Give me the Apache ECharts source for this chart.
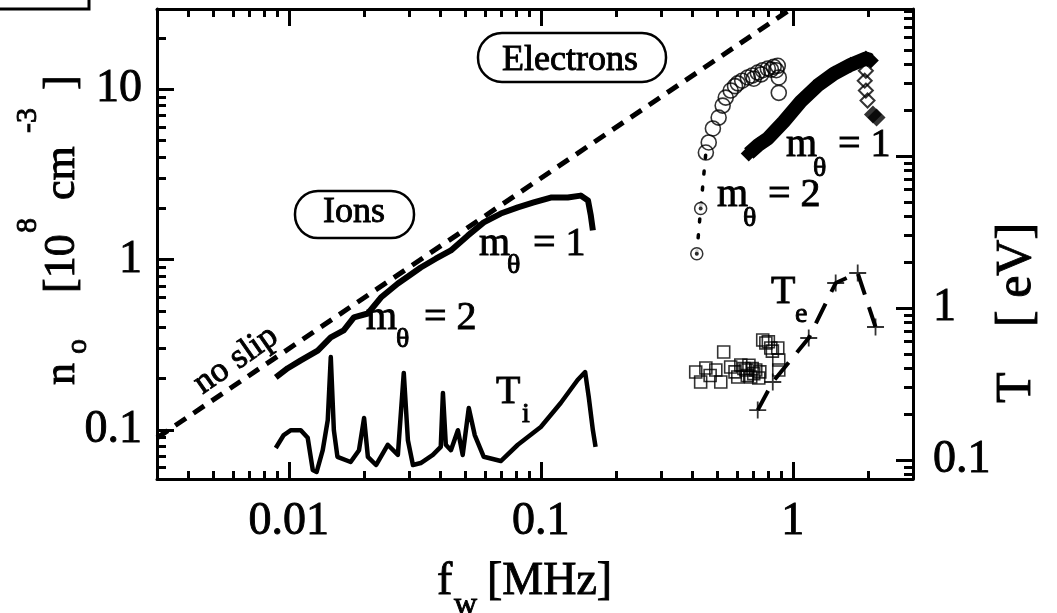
<!DOCTYPE html>
<html>
<head>
<meta charset="utf-8">
<script src="https://cdn.jsdelivr.net/npm/echarts@6/dist/echarts.min.js"></script>
<style>
  html, body { margin: 0; padding: 0; background: #fff; }
  #chart { width: 1057px; height: 613px; }
</style>
</head>
<body>
<div id="chart"></div>
<script>
// ---- axis ranges and ticks ----
const F_RANGE = [0.003, 3];          // f_w [MHz]
const N_RANGE = [0.0515, 29.5];      // n_0 [10^8 cm^-3]
const T_RANGE = [0.075, 92.7];       // T [eV]

const F_MAJOR = [0.01, 0.1, 1];
const F_MINOR = [0.004, 0.005, 0.006, 0.007, 0.008, 0.009,
                 0.02, 0.03, 0.04, 0.05, 0.06, 0.07, 0.08, 0.09,
                 0.2, 0.3, 0.4, 0.5, 0.6, 0.7, 0.8, 0.9, 2];
const F_LABELS = ['0.01', '0.1', '1'];

const N_MAJOR = [0.1, 1, 10];
const N_MINOR = [0.06, 0.07, 0.08, 0.09,
                 0.2, 0.3, 0.4, 0.5, 0.6, 0.7, 0.8, 0.9,
                 2, 3, 4, 5, 6, 7, 8, 9, 20];
const N_LABELS = ['0.1', '1', '10'];

const T_MAJOR = [0.1, 1, 10];
const T_MINOR = [0.08, 0.09,
                 0.2, 0.3, 0.4, 0.5, 0.6, 0.7, 0.8, 0.9,
                 2, 3, 4, 5, 6, 7, 8, 9,
                 20, 30, 40, 50, 60, 70, 80, 90];
const T_LABEL_VALUES = [0.1, 1];
const T_LABELS = ['0.1', '1'];

// ---- data: [f_w, value] ----
const noSlip = [[0.003, 0.0898], [0.98, 29.4]];

const ionDensity = [
  [0.00888, 0.203], [0.00991, 0.230], [0.01116, 0.256], [0.01303, 0.292],
  [0.01468, 0.349], [0.01652, 0.384], [0.01813, 0.457], [0.0206, 0.482],
  [0.0232, 0.598], [0.0271, 0.723], [0.0305, 0.817], [0.0334, 0.897],
  [0.0383, 1.01], [0.0440, 1.13], [0.0513, 1.38], [0.0594, 1.65],
  [0.0694, 1.86], [0.0811, 2.02], [0.0938, 2.16], [0.1096, 2.31],
  [0.128, 2.31], [0.144, 2.37], [0.154, 2.22], [0.158, 1.81], [0.161, 1.48]
];

const ionTemp = [
  [0.00888, 0.120], [0.00955, 0.146], [0.0102, 0.157], [0.01116, 0.157],
  [0.01189, 0.140], [0.01245, 0.086], [0.0129, 0.0834], [0.01364, 0.116],
  [0.01428, 0.183], [0.01468, 0.476], [0.0151, 0.157], [0.0156, 0.105],
  [0.0176, 0.097], [0.0190, 0.116], [0.0199, 0.189], [0.0206, 0.105],
  [0.0222, 0.0927], [0.0247, 0.126], [0.0271, 0.108], [0.0286, 0.374],
  [0.0297, 0.135], [0.0311, 0.0927], [0.0334, 0.0955], [0.0373, 0.108],
  [0.0401, 0.122], [0.0409, 0.276], [0.0420, 0.126], [0.0440, 0.116],
  [0.0469, 0.157], [0.0490, 0.108], [0.0518, 0.220], [0.0547, 0.146],
  [0.0594, 0.105], [0.0694, 0.0985], [0.0811, 0.126], [0.100, 0.165],
  [0.120, 0.237], [0.140, 0.336], [0.150, 0.379], [0.155, 0.260],
  [0.161, 0.157], [0.165, 0.122]
];

// electrons, m_theta = 2
const elecM2Dotted = [[0.416, 1.08], [0.431, 1.99]];
const elecM2Link = [[0.416, 1.08], [0.431, 1.99], [0.452, 4.24]];
const elecM2 = [
  [0.452, 4.24], [0.464, 4.86], [0.482, 5.87], [0.508, 6.80], [0.527, 8.00],
  [0.542, 8.91], [0.567, 9.80], [0.59, 10.4], [0.605, 10.8], [0.63, 11.2],
  [0.663, 11.7], [0.69, 12.0], [0.70, 11.5], [0.726, 12.5], [0.75, 12.2],
  [0.76, 12.9], [0.796, 13.2], [0.82, 13.0], [0.84, 13.5], [0.86, 12.9],
  [0.872, 13.7], [0.880, 11.7], [0.880, 9.5]
];

// electrons, m_theta = 1
const elecM1 = [
  [0.669, 4.19], [0.73, 4.7], [0.796, 5.13], [0.921, 6.44], [1.076, 8.45],
  [1.256, 10.5], [1.455, 12.3], [1.70, 13.9], [1.95, 15.1], [2.04, 14.7]
];
const elecM1Open = [[1.95, 12.8], [1.93, 11.2], [1.95, 9.8], [1.98, 8.57]];
const elecM1Solid = [[2.08, 7.09], [2.15, 6.8]];

// electron temperature
const elecTempCross = [
  [0.726, 0.213], [0.833, 0.326], [1.157, 0.635], [1.48, 1.46], [1.81, 1.70], [2.13, 0.75]
];
const elecTempSquare = [
  [0.412, 0.379], [0.431, 0.326], [0.452, 0.403], [0.47, 0.36], [0.495, 0.391],
  [0.518, 0.326], [0.532, 0.514], [0.567, 0.409], [0.59, 0.38], [0.605, 0.352],
  [0.622, 0.422], [0.64, 0.40], [0.651, 0.391], [0.66, 0.36], [0.67, 0.42],
  [0.681, 0.352], [0.69, 0.40], [0.70, 0.37], [0.713, 0.391], [0.733, 0.346],
  [0.74, 0.38], [0.760, 0.616], [0.782, 0.588], [0.80, 0.60], [0.818, 0.546],
  [0.83, 0.52], [0.872, 0.546], [0.880, 0.455], [0.880, 0.391]
];

// ---- styling ----
const SERIF = '"Liberation Serif", "Times New Roman", Times, serif';
const INK = '#000';
const TICK_FONT = 46;
const HEAVY = 0.9;   // extra stroke that gives the serif text its heavy print look

function labelFrom(values, texts) {
  return function (v) {
    for (let i = 0; i < values.length; i++) {
      if (Math.abs(Math.log10(v) - Math.log10(values[i])) < 1e-6) return texts[i];
    }
    return '';
  };
}

function logAxis(range, position, ticks, tickLen, labels) {
  const ax = {
    type: 'log', logBase: 10, min: range[0], max: range[1], position: position,
    axisLine: { show: tickLen > 10, onZero: false, lineStyle: { color: INK, width: 3 } },
    axisTick: { show: true, inside: true, length: tickLen, customValues: ticks,
                lineStyle: { color: INK, width: 3 } },
    axisLabel: { show: false },
    splitLine: { show: false },
    minorTick: { show: false },
    axisPointer: { show: false }
  };
  if (labels) {
    ax.axisLabel = {
      show: true, customValues: labels.values, formatter: labelFrom(labels.values, labels.texts),
      color: INK, fontFamily: SERIF, fontSize: TICK_FONT, margin: labels.margin,
      textBorderColor: INK, textBorderWidth: HEAVY
    };
  }
  return ax;
}

function txt(s, x, baseline, size) {
  return { type: 'text', x: x, y: baseline - 0.305 * size, silent: true, z: 50,
    style: { text: s, fontSize: size, fontFamily: SERIF, fill: INK, align: 'left', verticalAlign: 'middle',
             stroke: INK, lineWidth: HEAVY } };
}
function rtxt(s, lx, ly, size) {
  return { type: 'text', x: lx, y: ly, silent: true,
    style: { text: s, fontSize: size, fontFamily: SERIF, fill: INK, align: 'left', verticalAlign: 'middle',
             stroke: INK, lineWidth: HEAVY } };
}

const chart = echarts.init(document.getElementById('chart'), null, { renderer: 'canvas', width: 1057, height: 613 });

const crossPath = 'path://M0,5L10,5M5,0L5,10';

chart.setOption({
  backgroundColor: '#fff',
  animation: false,
  grid: { left: 157, right: 144, top: 9, bottom: 134, containLabel: false, outerBoundsMode: 'none' },
  xAxis: [
    logAxis(F_RANGE, 'bottom', F_MAJOR, 17, { values: F_MAJOR, texts: F_LABELS, margin: 20 }),
    logAxis(F_RANGE, 'bottom', F_MINOR, 8, null),
    logAxis(F_RANGE, 'top', F_MAJOR, 17, null),
    logAxis(F_RANGE, 'top', F_MINOR, 8, null)
  ],
  yAxis: [
    logAxis(N_RANGE, 'left', N_MAJOR, 17, { values: N_MAJOR, texts: N_LABELS, margin: 15 }),
    logAxis(N_RANGE, 'left', N_MINOR, 9, null),
    logAxis(T_RANGE, 'right', T_MAJOR, 17, { values: T_LABEL_VALUES, texts: T_LABELS, margin: 20 }),
    logAxis(T_RANGE, 'right', T_MINOR, 9, null)
  ],
  series: [
    { name: 'no slip', type: 'line', data: noSlip, xAxisIndex: 0, yAxisIndex: 0,
      showSymbol: false, silent: true, z: 3,
      lineStyle: { color: INK, width: 5, type: [13, 9] } },
    { name: 'ions n', type: 'line', data: ionDensity, xAxisIndex: 0, yAxisIndex: 0,
      showSymbol: false, silent: true, z: 4,
      lineStyle: { color: INK, width: 6, join: 'round' } },
    { name: 'ions T', type: 'line', data: ionTemp, xAxisIndex: 0, yAxisIndex: 2,
      showSymbol: false, silent: true, z: 4,
      lineStyle: { color: INK, width: 4.5, join: 'round' } },
    { name: 'electrons m2 link', type: 'line', data: elecM2Link, xAxisIndex: 0, yAxisIndex: 0,
      showSymbol: false, silent: true, z: 4,
      lineStyle: { color: INK, width: 3.5, type: [3, 13], cap: 'round' } },
    { name: 'electrons m2 start', type: 'scatter', data: elecM2Dotted, xAxisIndex: 0, yAxisIndex: 0,
      symbol: 'circle', symbolSize: 12, silent: true, z: 5,
      itemStyle: { color: '#fff', borderColor: INK, borderWidth: 1.5 } },
    { name: 'electrons m2 start dot', type: 'scatter', data: elecM2Dotted, xAxisIndex: 0, yAxisIndex: 0,
      symbol: 'circle', symbolSize: 4, silent: true, z: 6,
      itemStyle: { color: INK } },
    { name: 'electrons m2', type: 'scatter', data: elecM2, xAxisIndex: 0, yAxisIndex: 0,
      symbol: 'circle', symbolSize: 15, silent: true, z: 5,
      itemStyle: { color: 'rgba(0,0,0,0)', borderColor: INK, borderWidth: 1.6 } },
    { name: 'electrons m1', type: 'line', data: elecM1, xAxisIndex: 0, yAxisIndex: 0,
      symbol: 'diamond', symbolSize: 16, showSymbol: true, silent: true, z: 5,
      itemStyle: { color: INK },
      lineStyle: { color: INK, width: 14, cap: 'butt', join: 'round' } },
    { name: 'electrons m1 open', type: 'scatter', data: elecM1Open, xAxisIndex: 0, yAxisIndex: 0,
      symbol: 'diamond', symbolSize: 14, silent: true, z: 5,
      itemStyle: { color: 'rgba(0,0,0,0)', borderColor: INK, borderWidth: 2 } },
    { name: 'electrons m1 solid', type: 'scatter', data: elecM1Solid, xAxisIndex: 0, yAxisIndex: 0,
      symbol: 'diamond', symbolSize: 18, silent: true, z: 5,
      itemStyle: { color: INK } },
    { name: 'Te line', type: 'line', data: elecTempCross, xAxisIndex: 0, yAxisIndex: 2,
      showSymbol: false, silent: true, z: 4,
      lineStyle: { color: INK, width: 4, type: [22, 13] } },
    { name: 'Te cross', type: 'scatter', data: elecTempCross, xAxisIndex: 0, yAxisIndex: 2,
      symbol: crossPath, symbolSize: 17, silent: true, z: 5,
      itemStyle: { color: 'none', borderColor: INK, borderWidth: 1.8 } },
    { name: 'Te square', type: 'scatter', data: elecTempSquare, xAxisIndex: 0, yAxisIndex: 2,
      symbol: 'rect', symbolSize: 12, silent: true, z: 5,
      itemStyle: { color: 'rgba(0,0,0,0)', borderColor: INK, borderWidth: 1.6 } }
  ],
  graphic: [
    // partial frame at the top-left corner
    { type: 'polyline', silent: true, shape: { points: [[0, 9], [89, 9], [89, 0]] },
      style: { stroke: INK, lineWidth: 3, fill: null } },
    // boxed labels
    { type: 'rect', silent: true, z: 40, shape: { x: 478, y: 33, width: 188, height: 49, r: 24 },
      style: { fill: '#fff', stroke: INK, lineWidth: 2.5 } },
    txt('Electrons', 502, 72, 36),
    { type: 'rect', silent: true, z: 40, shape: { x: 295, y: 191, width: 119, height: 47, r: 23 },
      style: { fill: '#fff', stroke: INK, lineWidth: 2.5 } },
    txt('Ions', 323, 224, 36),
    // ion annotations
    txt('m', 479, 257, 40), txt('\u03b8', 507, 274, 28), txt('= 1', 533, 257, 40),
    txt('m', 366, 331, 40), txt('\u03b8', 396, 348, 28), txt('= 2', 424, 331, 40),
    txt('T', 496, 405, 40), txt('i', 522, 423, 28),
    // electron annotations
    txt('m', 786, 158, 40), txt('\u03b8', 813, 177, 28), txt('= 1', 838, 158, 40),
    txt('m', 717, 208, 40), txt('\u03b8', 743, 227, 28), txt('= 2', 768, 208, 40),
    txt('T', 771, 305, 40), txt('e', 795, 323, 28),
    // no-slip label along the dashed line
    { type: 'text', x: 236, y: 360, rotation: 0.61, silent: true, z: 50,
      style: { text: 'no slip', fontSize: 35, fontFamily: SERIF, fill: INK, align: 'center', verticalAlign: 'middle',
               stroke: INK, lineWidth: HEAVY } },
    // x axis title
    txt('f', 437, 596, 46), txt('w', 454, 615, 32), txt('[MHz]', 487, 596, 46),
    // left axis title (reads upward)
    { type: 'group', x: 62, y: 390, rotation: Math.PI / 2, silent: true,
      children: [
        rtxt('n', 5, 0, 44), rtxt('o', 36, 16, 30),
        rtxt('[10', 97, 0, 44), rtxt('8', 157, -34, 30),
        rtxt('cm', 190, 0, 44), rtxt('-3', 257, -34, 30),
        rtxt(']', 300, 0, 44)
      ] },
    // right axis title (reads upward)
    { type: 'group', x: 1017, y: 410, rotation: Math.PI / 2, silent: true,
      children: [
        rtxt('T', 7, 0, 50), rtxt('[ eV]', 83, 0, 50)
      ] }
  ]
});
</script>
</body>
</html>
